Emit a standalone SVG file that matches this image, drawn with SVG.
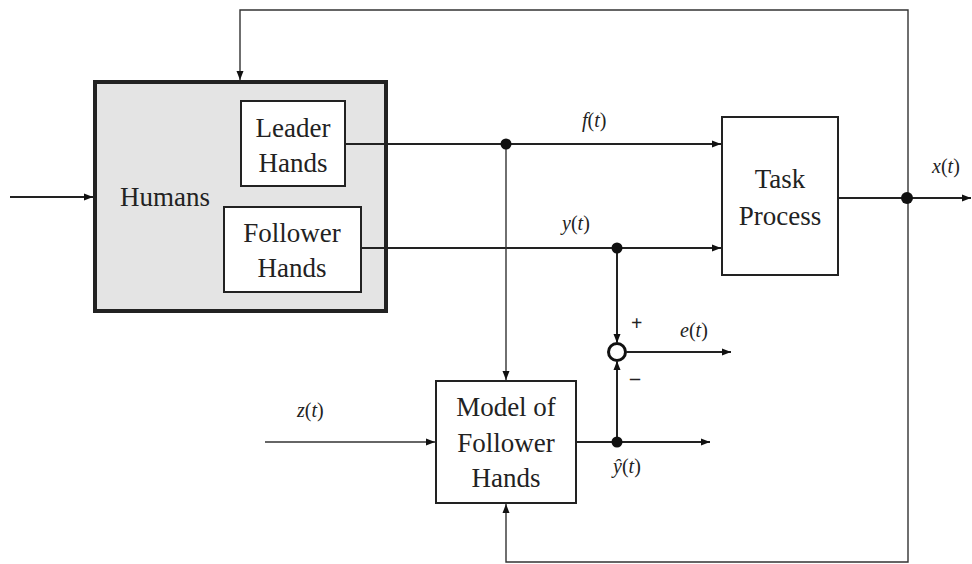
<svg xmlns="http://www.w3.org/2000/svg" width="972" height="564" viewBox="0 0 972 564">
  <style>
    .blk { fill: #ffffff; stroke: #222; stroke-width: 2; }
    .lbl { font-family: 'Liberation Serif', 'DejaVu Serif', serif; font-size: 27px; fill: #222; text-anchor: middle; }
    .sig { font-family: 'Liberation Serif', 'DejaVu Serif', serif; font-size: 20px; fill: #222; }
    .wire { fill: none; stroke: #222; stroke-width: 2; }
    .thin { fill: none; stroke: #333; stroke-width: 1.4; }
    .dot { fill: #111; }
  </style>
  <defs>
    <marker id="arr" markerUnits="userSpaceOnUse" markerWidth="10" markerHeight="8" refX="9" refY="4" orient="auto">
      <path d="M0,0.5 L9,4 L0,7.5 z" fill="#111"/>
    </marker>
  </defs>

  <rect width="972" height="564" fill="#fff"/>

  <!-- Humans block with nested hand blocks -->
  <g id="humans">
    <rect x="95" y="82" width="291" height="229" fill="#e4e4e4" stroke="#222" stroke-width="4"/>
    <text class="lbl" x="165" y="206">Humans</text>
  </g>
  <g id="leader-hands">
    <rect class="blk" x="241" y="101" width="104" height="85"/>
    <text class="lbl" x="293" y="137">Leader</text>
    <text class="lbl" x="293" y="172">Hands</text>
  </g>
  <g id="follower-hands">
    <rect class="blk" x="224" y="207" width="137" height="85"/>
    <text class="lbl" x="292" y="242">Follower</text>
    <text class="lbl" x="292" y="277">Hands</text>
  </g>

  <!-- Task Process block -->
  <g id="task-process">
    <rect class="blk" x="722" y="117" width="116" height="158"/>
    <text class="lbl" x="780" y="188">Task</text>
    <text class="lbl" x="780" y="225">Process</text>
  </g>

  <!-- Model of Follower Hands block -->
  <g id="model">
    <rect class="blk" x="436" y="381" width="140" height="122"/>
    <text class="lbl" x="506" y="416">Model of</text>
    <text class="lbl" x="506" y="452">Follower</text>
    <text class="lbl" x="506" y="487">Hands</text>
  </g>

  <!-- Summing junction -->
  <g id="sum">
    <circle cx="617" cy="352" r="8.5" fill="#fff" stroke="#111" stroke-width="3"/>
    <text class="sig" x="631" y="330" font-weight="bold" font-size="18">+</text>
    <text class="sig" x="630" y="385" font-weight="bold" font-size="18">–</text>
  </g>

  <g id="connectors">
    <!-- external input to Humans -->
    <line class="wire" x1="10" y1="197" x2="93" y2="197" marker-end="url(#arr)"/>
    <!-- feedback over the top into Humans -->
    <path class="thin" d="M908,198 L908,10 L240,10 L240,80" marker-end="url(#arr)"/>
    <!-- f(t): Leader Hands to Task Process -->
    <line class="wire" x1="345" y1="144" x2="721" y2="144" marker-end="url(#arr)"/>
    <!-- y(t): Follower Hands to Task Process -->
    <line class="wire" x1="361" y1="248" x2="721" y2="248" marker-end="url(#arr)"/>
    <!-- f(t) branch down into the model -->
    <line class="thin" x1="506" y1="144" x2="506" y2="380" marker-end="url(#arr)"/>
    <!-- y(t) branch to summing junction (+) -->
    <line class="wire" x1="617" y1="248" x2="617" y2="343" marker-end="url(#arr)"/>
    <!-- model output and branch to summing junction (-) -->
    <line class="wire" x1="576" y1="442" x2="710" y2="442" marker-end="url(#arr)"/>
    <line class="wire" x1="617" y1="442" x2="617" y2="361" marker-end="url(#arr)"/>
    <!-- e(t) output -->
    <line class="wire" x1="626" y1="352" x2="731" y2="352" marker-end="url(#arr)"/>
    <!-- z(t) input -->
    <line class="thin" x1="265" y1="442" x2="435" y2="442" marker-end="url(#arr)"/>
    <!-- x(t) output -->
    <line class="wire" x1="838" y1="198" x2="971" y2="198" marker-end="url(#arr)"/>
    <!-- x(t) feedback under the bottom into the model -->
    <path class="thin" d="M908,198 L908,562 L506,562 L506,504" marker-end="url(#arr)"/>
    <!-- branch points -->
    <circle class="dot" cx="506" cy="144" r="5.5"/>
    <circle class="dot" cx="617" cy="248" r="5.5"/>
    <circle class="dot" cx="617" cy="442" r="5.5"/>
    <circle class="dot" cx="907" cy="198" r="6"/>
  </g>

  <!-- signal labels -->
  <g id="labels">
    <text class="sig" x="582" y="127"><tspan font-style="italic">f</tspan>(<tspan font-style="italic">t</tspan>)</text>
    <text class="sig" x="562" y="230"><tspan font-style="italic">y</tspan>(<tspan font-style="italic">t</tspan>)</text>
    <text class="sig" x="680" y="337"><tspan font-style="italic">e</tspan>(<tspan font-style="italic">t</tspan>)</text>
    <text class="sig" x="297" y="417"><tspan font-style="italic">z</tspan>(<tspan font-style="italic">t</tspan>)</text>
    <text class="sig" x="613" y="473"><tspan font-style="italic">ŷ</tspan>(<tspan font-style="italic">t</tspan>)</text>
    <text class="sig" x="932" y="173"><tspan font-style="italic">x</tspan>(<tspan font-style="italic">t</tspan>)</text>
  </g>
</svg>
